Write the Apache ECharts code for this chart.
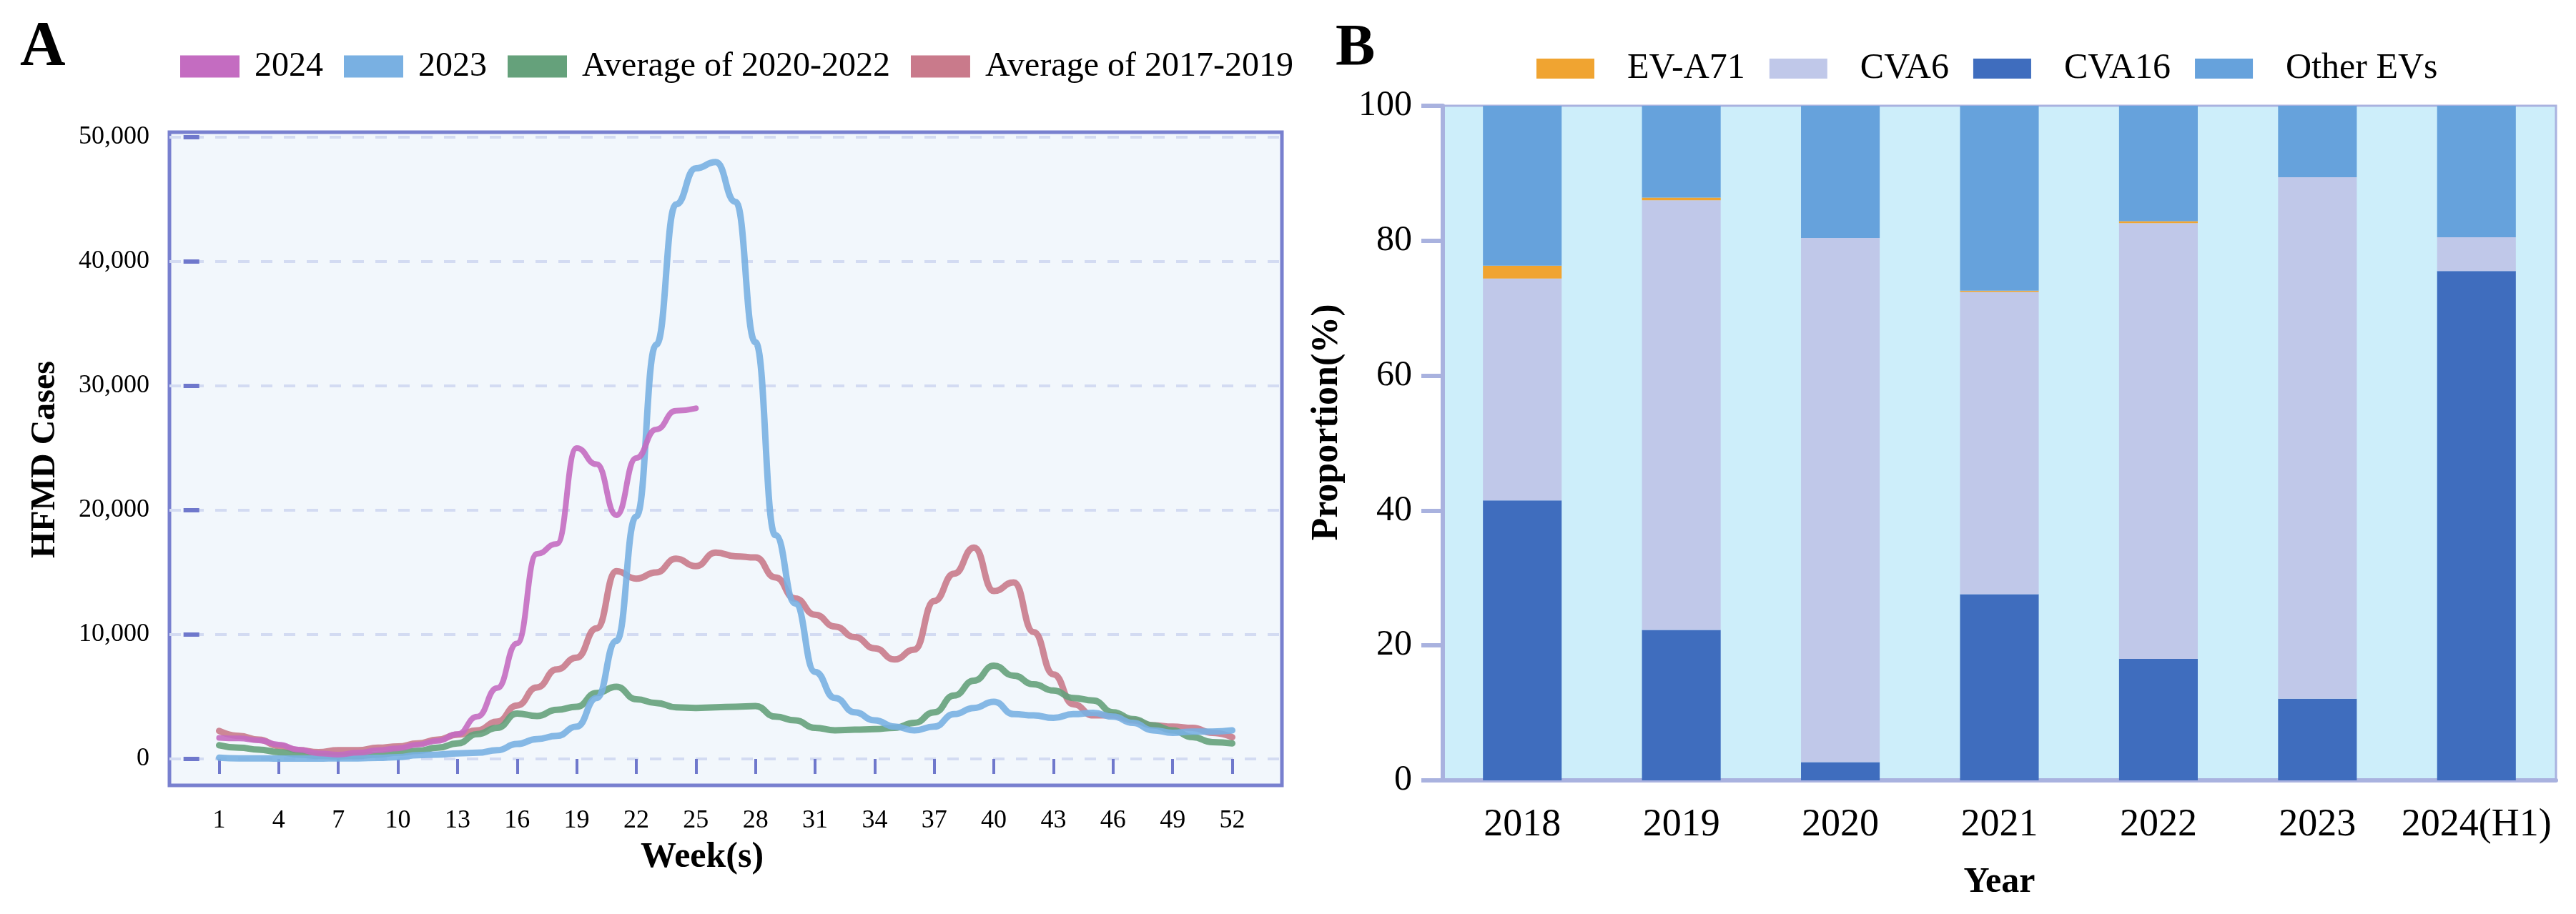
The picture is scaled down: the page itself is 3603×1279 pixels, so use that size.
<!DOCTYPE html>
<html>
<head>
<meta charset="utf-8">
<title>HFMD</title>
<script src="https://cdn.jsdelivr.net/npm/echarts@6/dist/echarts.min.js"></script>
<style>
  html, body { margin: 0; padding: 0; background: #fff; }
  #main { width: 3603px; height: 1279px; }
</style>
</head>
<body>
<div id="main"></div>
<script>
// ---- panel A : weekly HFMD cases ----
var weeks = [];
for (var w = 1; w <= 52; w++) weeks.push(w);
var weekTicks = [1, 4, 7, 10, 13, 16, 19, 22, 25, 28, 31, 34, 37, 40, 43, 46, 49, 52];

var cases2024 = [1700, 1650, 1500, 1150, 750, 450, 350, 500, 700, 850, 1150, 1450, 2000, 3400, 5700,
  9300, 16500, 17300, 25000, 23700, 19600, 24200, 26500, 28000, 28200];
var cases2023 = [100, 50, 50, 30, 30, 30, 50, 50, 80, 150, 300, 350, 450, 500, 700, 1200, 1600, 1850, 2600,
  4900, 9500, 19500, 33300, 44600, 47500, 48000, 44800, 33500, 18000, 12500, 7000, 4900, 3750, 3100,
  2600, 2300, 2600, 3600, 4100, 4600, 3600, 3500, 3300, 3600, 3700, 3400, 2900, 2300, 2100, 2200, 2200, 2300];
var avg2020_2022 = [1100, 900, 750, 550, 350, 250, 200, 250, 350, 500, 650, 900, 1250, 2000, 2500, 3650,
  3450, 3950, 4200, 5300, 5800, 4800, 4500, 4150, 4100, 4150, 4200, 4250, 3400, 3100, 2500, 2300, 2350,
  2400, 2500, 2900, 3750, 5100, 6300, 7500, 6700, 6000, 5500, 4900, 4700, 3750, 3200, 2700, 2300, 1750, 1350, 1250];
var avg2017_2019 = [2250, 1850, 1550, 1050, 700, 550, 700, 700, 900, 1000, 1250, 1550, 1950, 2300, 3000,
  4300, 5750, 7200, 8150, 10500, 15100, 14500, 15000, 16100, 15500, 16600, 16300, 16200, 14600, 12900,
  11600, 10650, 9800, 8900, 8000, 8800, 12700, 14900, 17000, 13500, 14200, 10200, 6800, 4400, 3500,
  3500, 3100, 2700, 2600, 2500, 2100, 1750];

// ---- panel B : enterovirus proportions ----
var years = ['2018', '2019', '2020', '2021', '2022', '2023', '2024(H1)'];
var cva16 = [41.5, 22.3, 2.7, 27.6, 18.0, 12.1, 75.5];
var cva6 = [32.9, 63.7, 77.7, 44.8, 64.6, 77.3, 5.0];
var eva71 = [1.9, 0.4, 0.0, 0.2, 0.3, 0.0, 0.0];
var otherEVs = [23.7, 13.6, 19.6, 27.4, 17.1, 10.6, 19.5];

function pairs(vals) {
  return vals.map(function (v, i) { return [weeks[i], v]; });
}

var FONT = 'Liberation Serif';
var chart = echarts.init(document.getElementById('main'));

function lineSeries(name, vals, color, width) {
  return {
    name: name,
    type: 'line',
    xAxisIndex: 0,
    yAxisIndex: 0,
    data: pairs(vals),
    smooth: 0.5,
    smoothMonotone: 'x',
    showSymbol: false,
    lineStyle: { color: color, width: width, opacity: 0.9, cap: 'round', join: 'round' },
    itemStyle: { color: color }
  };
}

function barSeries(name, vals, color) {
  return {
    name: name,
    type: 'bar',
    stack: 'ev',
    xAxisIndex: 1,
    yAxisIndex: 1,
    barWidth: '49.5%',
    data: vals,
    itemStyle: { color: color }
  };
}

var option = {
  backgroundColor: '#ffffff',
  animation: false,
  textStyle: { fontFamily: FONT, color: '#000' },
  title: [
    { text: 'A', left: 23, top: 18, textStyle: { fontFamily: FONT, fontSize: 88, fontWeight: 'bold', color: '#000' } },
    { text: 'B', left: 1863, top: 22, textStyle: { fontFamily: FONT, fontSize: 83, fontWeight: 'bold', color: '#000' } }
  ],
  legend: [
    {
      data: ['2024', '2023', 'Average of 2020-2022', 'Average of 2017-2019'],
      left: 247, top: 64,
      icon: 'rect', itemWidth: 83, itemHeight: 31, itemGap: 29,
      textStyle: { fontFamily: FONT, fontSize: 48, color: '#000', padding: [0, 0, 0, 16] }
    },
    {
      data: ['EV-A71', 'CVA6', 'CVA16', 'Other EVs'],
      left: 2144, top: 66,
      icon: 'rect', itemWidth: 81, itemHeight: 28, itemGap: 34,
      textStyle: { fontFamily: FONT, fontSize: 50, color: '#000', padding: [0, 0, 0, 41] }
    }
  ],
  graphic: [
    {
      type: 'rect', z: -10,
      shape: { x: 237, y: 185, width: 1556, height: 914 },
      style: { fill: '#f2f7fc', stroke: '#7880cf', lineWidth: 5 }
    }
  ],
  grid: [
    { left: 237, top: 192, width: 1556, height: 870 },
    { left: 2018, top: 148, width: 1557, height: 944, show: true,
      backgroundColor: '#cdeefa', borderColor: '#a9b2df', borderWidth: 3 }
  ],
  xAxis: [
    {
      gridIndex: 0, type: 'value', min: -1.5, max: 54.5,
      offset: 37,
      name: 'Week(s)', nameLocation: 'middle', nameGap: 76,
      nameTextStyle: { fontFamily: FONT, fontSize: 50, fontWeight: 'bold', color: '#000', padding: [0, 66, 0, 0] },
      axisLine: { show: false },
      axisTick: { show: true, length: 21, customValues: weekTicks, lineStyle: { color: '#6f78cc', width: 4 } },
      axisLabel: { customValues: weekTicks, margin: 32, fontFamily: FONT, fontSize: 36, color: '#000' },
      splitLine: { show: false }
    },
    {
      gridIndex: 1, type: 'category', data: years,
      name: 'Year', nameLocation: 'middle', nameGap: 118,
      nameTextStyle: { fontFamily: FONT, fontSize: 50, fontWeight: 'bold', color: '#000' },
      axisLine: { lineStyle: { color: '#a9b2df', width: 6 } },
      axisTick: { alignWithLabel: true, length: 20, lineStyle: { color: '#a9b2df', width: 5 } },
      axisLabel: { interval: 0, hideOverlap: false, margin: 36, fontFamily: FONT, fontSize: 54, color: '#000' }
    }
  ],
  yAxis: [
    {
      gridIndex: 0, type: 'value', min: 0, max: 50000, interval: 10000,
      name: 'HFMD Cases', nameLocation: 'middle', nameGap: 149,
      nameTextStyle: { fontFamily: FONT, fontSize: 48, fontWeight: 'bold', color: '#000', padding: [0, 32, 0, 0] },
      axisLine: { show: false },
      axisTick: { show: true, length: 22, lineStyle: { color: '#6f78cc', width: 6 } },
      axisLabel: {
        margin: 28, fontFamily: FONT, fontSize: 36, color: '#000',
        formatter: function (v) { return v.toLocaleString('en-US'); }
      },
      splitLine: { show: true, lineStyle: { color: '#d3dbf2', width: 4, type: [16, 16] } }
    },
    {
      gridIndex: 1, type: 'value', min: 0, max: 100, interval: 20,
      name: 'Proportion(%)', nameLocation: 'middle', nameGap: 135,
      nameTextStyle: { fontFamily: FONT, fontSize: 52, fontWeight: 'bold', color: '#000', padding: [0, 0, 0, 58] },
      axisLine: { show: true, lineStyle: { color: '#a9b2df', width: 6 } },
      axisTick: { show: true, length: 30, lineStyle: { color: '#a9b2df', width: 6 } },
      axisLabel: { margin: 43, fontFamily: FONT, fontSize: 50, color: '#000' },
      splitLine: { show: false }
    }
  ],
  series: [
    lineSeries('Average of 2017-2019', avg2017_2019, '#c97a8b', 9),
    lineSeries('Average of 2020-2022', avg2020_2022, '#65a17b', 9),
    lineSeries('2023', cases2023, '#79b0e2', 9),
    lineSeries('2024', cases2024, '#c46cc1', 8),
    barSeries('CVA16', cva16, '#3f6dbe'),
    barSeries('CVA6', cva6, '#c0c8e9'),
    barSeries('EV-A71', eva71, '#f0a431'),
    barSeries('Other EVs', otherEVs, '#66a2dc')
  ]
};

chart.setOption(option);
</script>
</body>
</html>
